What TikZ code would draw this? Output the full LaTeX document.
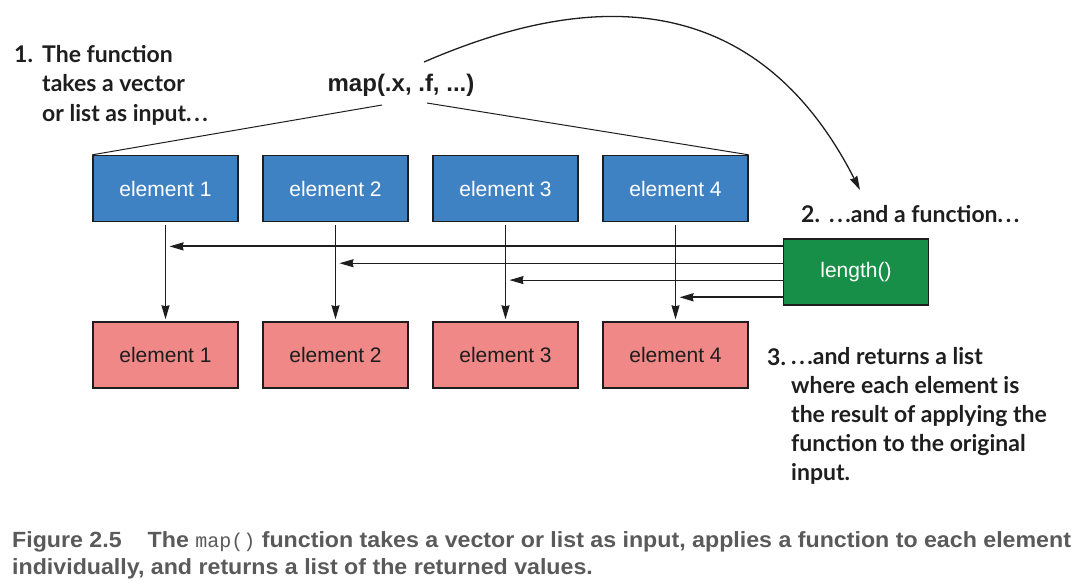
\documentclass[tikz,border=0pt]{standalone}
\usepackage{fontspec}
\setmainfont{Lato}
\setsansfont{Liberation Sans}
\setmonofont{Liberation Mono}
\newfontfamily\capfont[FakeStretch=1.054]{Liberation Sans}
\usetikzlibrary{arrows.meta,calc}
\definecolor{blueF}{HTML}{3F82C4}
\definecolor{redF}{HTML}{EF8886}
\definecolor{greenF}{HTML}{178F48}
\definecolor{ink}{HTML}{1E1E1E}
\definecolor{capgray}{HTML}{5A5A5A}
\newcommand\mydots{.\kern2.6pt.\kern2.6pt.}
\begin{document}
\begin{tikzpicture}[x=1pt,y=-1pt,
  box/.style={draw=ink,line width=1.4pt,minimum width=145pt,minimum height=66pt,inner sep=0pt,font=\sffamily\fontsize{21}{21}\selectfont},
  inbox/.style={box,fill=blueF,text=white},
  outbox/.style={box,fill=redF,text=ink},
  fnbox/.style={box,fill=greenF,text=white},
  note/.style={font=\bfseries\fontsize{23}{29.3}\selectfont,align=left,anchor=base west,inner sep=0pt,text=ink},
  arr/.style={-{Stealth[length=14pt,width=8pt,inset=1pt]},line width=1.3pt,draw=ink},
  thinline/.style={line width=1pt,draw=ink},
  captext/.style={font=\capfont\bfseries\fontsize{22}{27}\selectfont,text=capgray,anchor=base west,inner sep=0pt},
]
\path[use as bounding box] (0,0) rectangle (1086,587);

% input elements
\node[inbox] (b1) at (165.5,188.5) {element 1};
\node[inbox] (b2) at (335.5,188.5) {element 2};
\node[inbox] (b3) at (505.5,188.5) {element 3};
\node[inbox] (b4) at (675.5,188.5) {element 4};
% output elements
\node[outbox] (r1) at (165.5,355) {element 1};
\node[outbox] (r2) at (335.5,355) {element 2};
\node[outbox] (r3) at (505.5,355) {element 3};
\node[outbox] (r4) at (675.5,355) {element 4};
% function
\node[fnbox] (g) at (856,272) {length()};

% map call
\node[font=\sffamily\bfseries\fontsize{24}{24}\selectfont,text=ink,inner sep=0pt,anchor=base] (map) at (401,91) {map(.x, .f, ...)};
\coordinate (mapL) at (382,105);
\coordinate (mapR) at (427,103);
\coordinate (mapT) at (424,62);
\draw[thinline] (mapL) -- (b1.north west);
\draw[thinline] (mapR) -- (b4.north east);

% vertical arrows
\draw[arr,shorten <=3pt,shorten >=2pt] (b1) -- (r1);
\draw[arr,shorten <=3pt,shorten >=2pt] (b2) -- (r2);
\draw[arr,shorten <=3pt,shorten >=2pt] (b3) -- (r3);
\draw[arr,line width=0.9pt,shorten <=3pt,shorten >=2pt] (b4) -- (r4);

% horizontal arrows from the function
\coordinate (h1) at ($(g.north west)!0.12!(g.south west)$);
\coordinate (h2) at ($(g.north west)!0.37!(g.south west)$);
\coordinate (h3) at ($(g.north west)!0.62!(g.south west)$);
\coordinate (h4) at ($(g.north west)!0.875!(g.south west)$);
\draw[arr,line width=1.8pt] (h1) -- ($(b1.south |- h1)+(4,0)$);
\draw[arr,line width=1pt] (h2) -- ($(b2.south |- h2)+(4,0)$);
\draw[arr,line width=1pt] (h3) -- ($(b3.south |- h3)+(4,0)$);
\draw[arr,line width=1.8pt] (h4) -- ($(b4.south |- h4)+(4,0)$);

% curved arrow
\coordinate (cEnd) at (860,190);
\draw[arr,line width=1.3pt] (mapT) .. controls (540,12) and (740,-45) .. (cEnd);

% notes (anchor base = baseline of the last line)
\node[note] (n1) at (14,62) {1.};
\node[note,font=\bfseries\fontsize{23}{29.5}\selectfont] (t1) at (42,121) {The function\\takes a vector\\or list as input\mydots};
\node[note] (n2) at (801,222) {2.};
\node[note] (t2) at (829,222) {\mydots and a function\mydots};
\node[note] (n3) at (767,365) {3.};
\node[note,font=\bfseries\fontsize{23}{28.8}\selectfont] (t3) at (791,480) {\mydots and returns a list\\where each element is\\the result of applying the\\function to the original\\input.};

% caption
\node[captext] (c1) at (12,547) {Figure 2.5\hspace{26pt}The {\mdseries\ttfamily\fontsize{20}{20}\selectfont map()} function takes a vector or list as input, applies a function to each element};
\node[captext] (c2) at (12,574) {individually, and returns a list of the returned values.};
\end{tikzpicture}
\end{document}
